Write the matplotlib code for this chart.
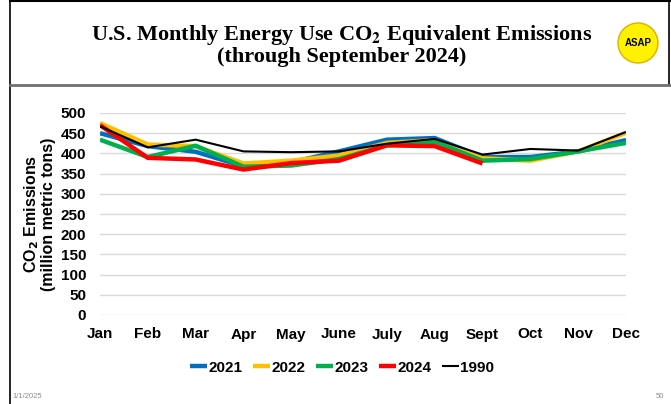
import matplotlib.pyplot as plt
from matplotlib.lines import Line2D
from matplotlib.patches import Circle

months = ["Jan", "Feb", "Mar", "Apr", "May", "June", "July", "Aug", "Sept", "Oct", "Nov", "Dec"]

# million metric tons CO2
y2021 = [450, 418, 404, 368, 378, 405, 434, 438, 391, 391, 405, 433]
y2022 = [475, 422, 418, 375, 382, 395, 426, 433, 388, 382, 405, 451]
y2023 = [434, 391, 419, 367, 370, 386, 420, 429, 382, 386, 405, 426]
y2024 = [470, 389, 385, 360, 376, 382, 420, 418, 375]
y1990 = [467, 415, 434, 405, 403, 405, 424, 436, 397, 411, 407, 453]

series = [
    ("2021", y2021, "#0070C0", 3.2),
    ("2022", y2022, "#FFC000", 3.2),
    ("2023", y2023, "#00B050", 3.2),
    ("2024", y2024, "#FF0000", 3.2),
    ("1990", y1990, "black", 1.5),
]

plt.rcParams["font.family"] = ["Liberation Sans", "DejaVu Sans"]

fig = plt.figure(figsize=(6.71, 4.04), dpi=100)
ax = fig.add_axes([100 / 671, 1 - 315 / 404, 526 / 671, 202 / 404])

for name, vals, color, lw in series:
    ax.plot(range(len(vals)), vals, color=color, lw=lw, label=name, solid_capstyle="butt")

ax.set_xlim(0, 11)
ax.set_ylim(0, 500)
ax.set_yticks(range(0, 501, 50))
ax.set_xticks(range(12))
ax.set_xticklabels(months)
ax.grid(axis="y", color="#D9D9D9", lw=1)
ax.set_axisbelow(True)
for s in ax.spines.values():
    s.set_visible(False)
ax.tick_params(length=0, labelsize=11)
for lab in ax.get_xticklabels() + ax.get_yticklabels():
    lab.set_fontweight("bold")
ax.tick_params(axis="y", pad=10)
ax.tick_params(axis="x", pad=9)

ax.set_ylabel(r"CO$_\mathbf{2}$ Emissions" + "\n(million metric tons)",
              fontsize=11.5, fontweight="bold", linespacing=1.0, labelpad=3,
              math_fontfamily="dejavusans")

leg = ax.legend(loc="center", bbox_to_anchor=(0.46, -0.26), ncol=5, frameon=False,
                handlelength=1.1, handletextpad=0.1, columnspacing=0.7,
                prop={"weight": "bold", "size": 11})

# slide frame
fig.add_artist(Line2D([10 / 671, 10 / 671], [0, 1], color="black", lw=1.2))
fig.add_artist(Line2D([10 / 671, 1], [1 - 1 / 404, 1 - 1 / 404], color="black", lw=1.5))
fig.add_artist(Line2D([669 / 671, 669 / 671], [1, 1 - 85 / 404], color="black", lw=1.2))
fig.add_artist(Line2D([10 / 671, 1], [1 - 85 / 404, 1 - 85 / 404], color="#707070", lw=2))

fig.text(342 / 671, 1 - 45 / 404,
         r"U.S. Monthly Energy Use CO$_\mathbf{2}$ Equivalent Emissions" + "\n(through September 2024)",
         ha="center", va="center", fontsize=16, fontweight="bold",
         family="Liberation Serif", linespacing=1.05, math_fontfamily="stix")

# ASAP badge, drawn in inches so it stays round
fig.add_artist(Circle((638 / 100, (404 - 43) / 100), 0.2, transform=fig.dpi_scale_trans,
                      facecolor="#FFF200", edgecolor="#E0B000", lw=1))
fig.text(638 / 671, 1 - 43 / 404, "ASAP", ha="center", va="center",
         fontsize=7, fontweight="bold")

fig.text(12 / 671, 1 - 397 / 404, "1/1/2025", fontsize=5.5, color="#8C8C8C", va="center")
fig.text(664 / 671, 1 - 397 / 404, "50", fontsize=5.5, color="#8C8C8C", va="center", ha="right")

fig.savefig("out.png", dpi=100)
